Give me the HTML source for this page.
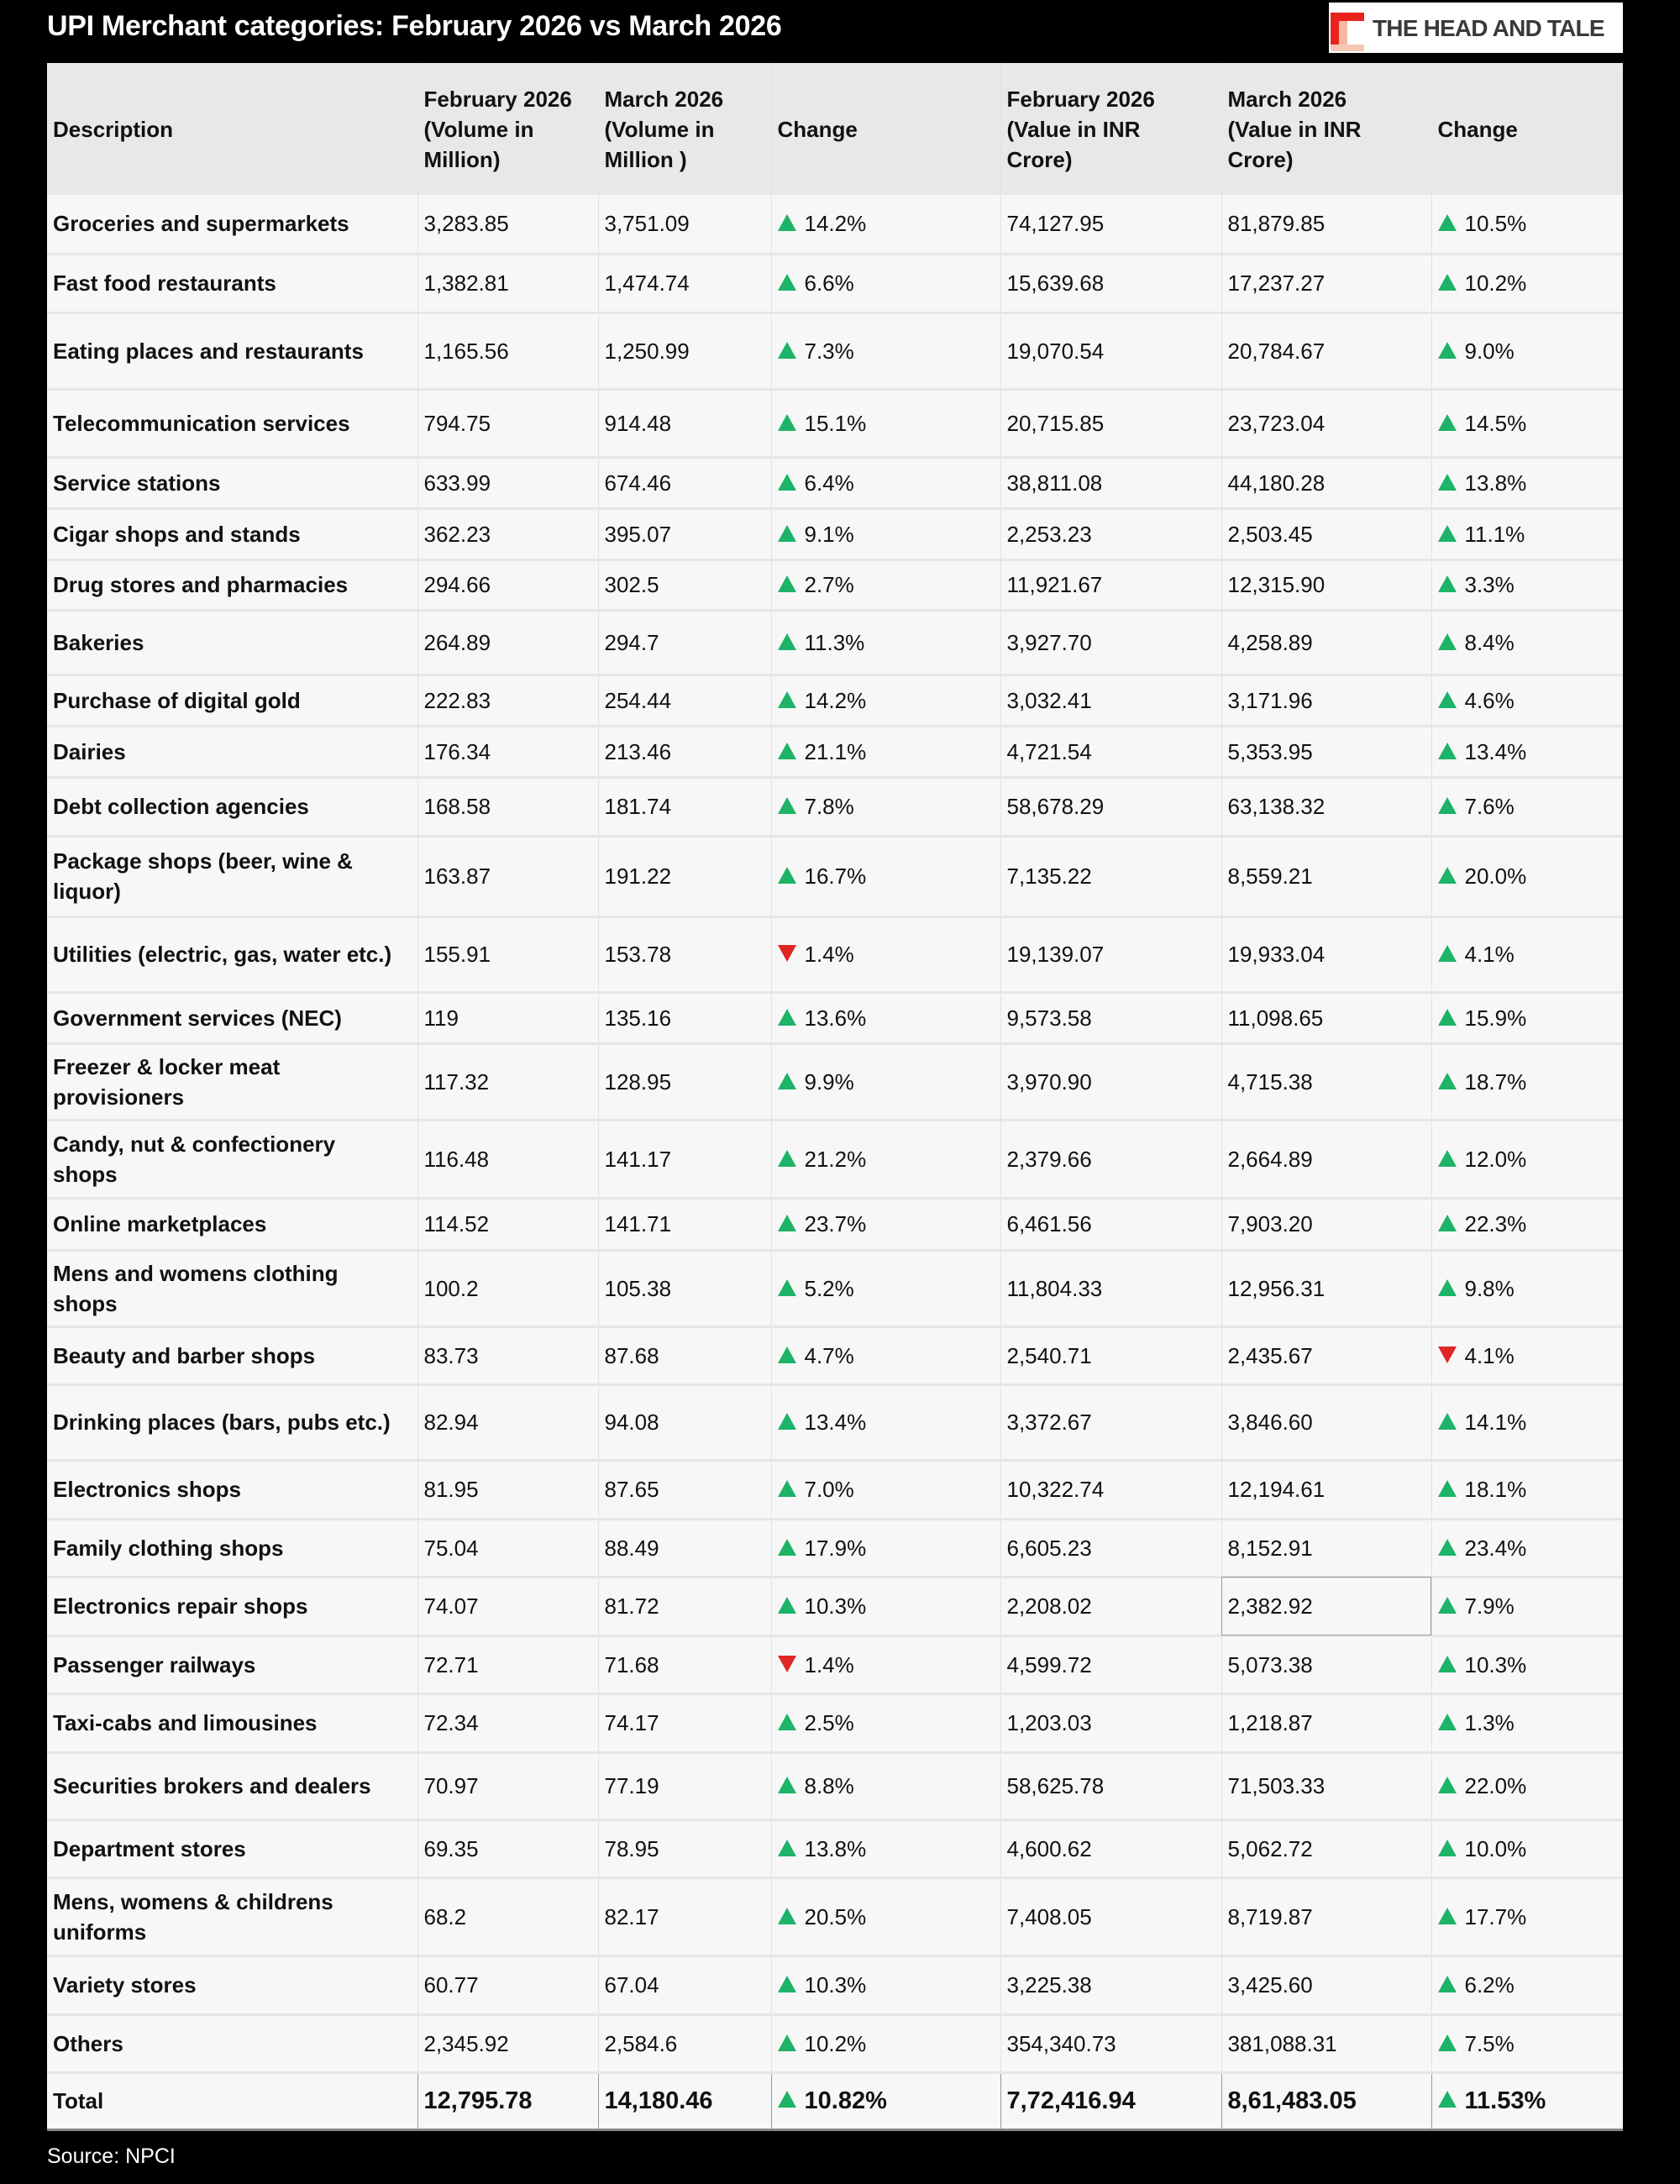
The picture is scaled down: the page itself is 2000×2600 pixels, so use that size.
<!DOCTYPE html>
<html><head><meta charset="utf-8"><style>
*{margin:0;padding:0;box-sizing:border-box}
body{width:2000px;height:2600px;background:#000;font-family:"Liberation Sans",Arial,sans-serif;position:relative;overflow:hidden}
.title{position:absolute;left:56px;top:12px;color:#fff;font-weight:bold;font-size:34px;letter-spacing:-0.3px}
.logo{position:absolute;left:1582px;top:3px;width:350px;height:60px;background:#fff;overflow:hidden}
.logo .t{position:absolute;left:52px;top:15px;font-size:28px;font-weight:bold;color:#3a3a3a;letter-spacing:-0.8px;white-space:nowrap}
table{position:absolute;left:56px;top:75px;width:1876px;border-collapse:collapse;table-layout:fixed;font-size:26px;color:#111}
td,th{padding:0 7px;vertical-align:middle;text-align:left;border-left:1px solid #e2e2e2;border-bottom:3px solid #e6e6e6;background:#f7f7f7;line-height:36px}
th{background:#e8e8e8;font-weight:bold;border-bottom:none}
td:first-child,th:first-child{border-left:none;font-weight:bold}
.up,.dn{display:inline-block;width:0;height:0;border-left:11px solid transparent;border-right:11px solid transparent;margin-right:10px;vertical-align:middle;position:relative;top:-3px}
.up{border-bottom:20px solid #1db368}
.dn{border-top:20px solid #e02525}
tr.tot td{border-top:3px solid #888;border-bottom:3px solid #888;border-left:1px solid #999;font-size:29px;font-weight:bold}
tr.tot td:first-child{border-left:none;font-size:26px}
.sel{outline:1px solid #999;outline-offset:-1px}
.src{position:absolute;left:56px;top:2553px;color:#fff;font-size:25px}
</style></head><body>
<div class="title">UPI Merchant categories: February 2026 vs March 2026</div>
<div class="logo"><svg width="48" height="60" style="position:absolute;left:0;top:0"><rect x="2" y="12" width="40" height="10" fill="#e8231f"/><rect x="2" y="12" width="10" height="38" fill="#e8231f"/><rect x="12" y="22" width="10" height="34" fill="#f4b8a4"/><rect x="2" y="50" width="40" height="8" fill="#f4c6b4"/></svg><div class="t">THE HEAD AND TALE</div></div>
<table>
<colgroup><col style="width:441px"><col style="width:215px"><col style="width:206px"><col style="width:273px"><col style="width:263px"><col style="width:250px"><col style="width:228px"></colgroup>
<tr style="height:157px"><th>Description</th><th>February 2026<br>(Volume in<br>Million)</th><th>March 2026<br>(Volume in<br>Million )</th><th>Change</th><th>February 2026<br>(Value in INR<br>Crore)</th><th>March 2026<br>(Value in INR<br>Crore)</th><th>Change</th></tr>
<tr style="height:70px"><td>Groceries and supermarkets</td><td>3,283.85</td><td>3,751.09</td><td><span class="up"></span>14.2%</td><td>74,127.95</td><td>81,879.85</td><td><span class="up"></span>10.5%</td></tr>
<tr style="height:70px"><td>Fast food restaurants</td><td>1,382.81</td><td>1,474.74</td><td><span class="up"></span>6.6%</td><td>15,639.68</td><td>17,237.27</td><td><span class="up"></span>10.2%</td></tr>
<tr style="height:91px"><td>Eating places and restaurants</td><td>1,165.56</td><td>1,250.99</td><td><span class="up"></span>7.3%</td><td>19,070.54</td><td>20,784.67</td><td><span class="up"></span>9.0%</td></tr>
<tr style="height:81px"><td>Telecommunication services</td><td>794.75</td><td>914.48</td><td><span class="up"></span>15.1%</td><td>20,715.85</td><td>23,723.04</td><td><span class="up"></span>14.5%</td></tr>
<tr style="height:61px"><td>Service stations</td><td>633.99</td><td>674.46</td><td><span class="up"></span>6.4%</td><td>38,811.08</td><td>44,180.28</td><td><span class="up"></span>13.8%</td></tr>
<tr style="height:61px"><td>Cigar shops and stands</td><td>362.23</td><td>395.07</td><td><span class="up"></span>9.1%</td><td>2,253.23</td><td>2,503.45</td><td><span class="up"></span>11.1%</td></tr>
<tr style="height:60px"><td>Drug stores and pharmacies</td><td>294.66</td><td>302.5</td><td><span class="up"></span>2.7%</td><td>11,921.67</td><td>12,315.90</td><td><span class="up"></span>3.3%</td></tr>
<tr style="height:77px"><td>Bakeries</td><td>264.89</td><td>294.7</td><td><span class="up"></span>11.3%</td><td>3,927.70</td><td>4,258.89</td><td><span class="up"></span>8.4%</td></tr>
<tr style="height:61px"><td>Purchase of digital gold</td><td>222.83</td><td>254.44</td><td><span class="up"></span>14.2%</td><td>3,032.41</td><td>3,171.96</td><td><span class="up"></span>4.6%</td></tr>
<tr style="height:61px"><td>Dairies</td><td>176.34</td><td>213.46</td><td><span class="up"></span>21.1%</td><td>4,721.54</td><td>5,353.95</td><td><span class="up"></span>13.4%</td></tr>
<tr style="height:70px"><td>Debt collection agencies</td><td>168.58</td><td>181.74</td><td><span class="up"></span>7.8%</td><td>58,678.29</td><td>63,138.32</td><td><span class="up"></span>7.6%</td></tr>
<tr style="height:96px"><td>Package shops (beer, wine &amp;<br>liquor)</td><td>163.87</td><td>191.22</td><td><span class="up"></span>16.7%</td><td>7,135.22</td><td>8,559.21</td><td><span class="up"></span>20.0%</td></tr>
<tr style="height:90px"><td>Utilities (electric, gas, water etc.)</td><td>155.91</td><td>153.78</td><td><span class="dn"></span>1.4%</td><td>19,139.07</td><td>19,933.04</td><td><span class="up"></span>4.1%</td></tr>
<tr style="height:61px"><td>Government services (NEC)</td><td>119</td><td>135.16</td><td><span class="up"></span>13.6%</td><td>9,573.58</td><td>11,098.65</td><td><span class="up"></span>15.9%</td></tr>
<tr style="height:91px"><td>Freezer &amp; locker meat<br>provisioners</td><td>117.32</td><td>128.95</td><td><span class="up"></span>9.9%</td><td>3,970.90</td><td>4,715.38</td><td><span class="up"></span>18.7%</td></tr>
<tr style="height:93px"><td>Candy, nut &amp; confectionery<br>shops</td><td>116.48</td><td>141.17</td><td><span class="up"></span>21.2%</td><td>2,379.66</td><td>2,664.89</td><td><span class="up"></span>12.0%</td></tr>
<tr style="height:62px"><td>Online marketplaces</td><td>114.52</td><td>141.71</td><td><span class="up"></span>23.7%</td><td>6,461.56</td><td>7,903.20</td><td><span class="up"></span>22.3%</td></tr>
<tr style="height:91px"><td>Mens and womens clothing<br>shops</td><td>100.2</td><td>105.38</td><td><span class="up"></span>5.2%</td><td>11,804.33</td><td>12,956.31</td><td><span class="up"></span>9.8%</td></tr>
<tr style="height:69px"><td>Beauty and barber shops</td><td>83.73</td><td>87.68</td><td><span class="up"></span>4.7%</td><td>2,540.71</td><td>2,435.67</td><td><span class="dn"></span>4.1%</td></tr>
<tr style="height:90px"><td>Drinking places (bars, pubs etc.)</td><td>82.94</td><td>94.08</td><td><span class="up"></span>13.4%</td><td>3,372.67</td><td>3,846.60</td><td><span class="up"></span>14.1%</td></tr>
<tr style="height:70px"><td>Electronics shops</td><td>81.95</td><td>87.65</td><td><span class="up"></span>7.0%</td><td>10,322.74</td><td>12,194.61</td><td><span class="up"></span>18.1%</td></tr>
<tr style="height:69px"><td>Family clothing shops</td><td>75.04</td><td>88.49</td><td><span class="up"></span>17.9%</td><td>6,605.23</td><td>8,152.91</td><td><span class="up"></span>23.4%</td></tr>
<tr style="height:70px"><td>Electronics repair shops</td><td>74.07</td><td>81.72</td><td><span class="up"></span>10.3%</td><td>2,208.02</td><td class="sel">2,382.92</td><td><span class="up"></span>7.9%</td></tr>
<tr style="height:69px"><td>Passenger railways</td><td>72.71</td><td>71.68</td><td><span class="dn"></span>1.4%</td><td>4,599.72</td><td>5,073.38</td><td><span class="up"></span>10.3%</td></tr>
<tr style="height:70px"><td>Taxi-cabs and limousines</td><td>72.34</td><td>74.17</td><td><span class="up"></span>2.5%</td><td>1,203.03</td><td>1,218.87</td><td><span class="up"></span>1.3%</td></tr>
<tr style="height:80px"><td>Securities brokers and dealers</td><td>70.97</td><td>77.19</td><td><span class="up"></span>8.8%</td><td>58,625.78</td><td>71,503.33</td><td><span class="up"></span>22.0%</td></tr>
<tr style="height:69px"><td>Department stores</td><td>69.35</td><td>78.95</td><td><span class="up"></span>13.8%</td><td>4,600.62</td><td>5,062.72</td><td><span class="up"></span>10.0%</td></tr>
<tr style="height:93px"><td>Mens, womens &amp; childrens<br>uniforms</td><td>68.2</td><td>82.17</td><td><span class="up"></span>20.5%</td><td>7,408.05</td><td>8,719.87</td><td><span class="up"></span>17.7%</td></tr>
<tr style="height:70px"><td>Variety stores</td><td>60.77</td><td>67.04</td><td><span class="up"></span>10.3%</td><td>3,225.38</td><td>3,425.60</td><td><span class="up"></span>6.2%</td></tr>
<tr style="height:69px"><td>Others</td><td>2,345.92</td><td>2,584.6</td><td><span class="up"></span>10.2%</td><td>354,340.73</td><td>381,088.31</td><td><span class="up"></span>7.5%</td></tr>
<tr class="tot" style="height:68px"><td>Total</td><td>12,795.78</td><td>14,180.46</td><td><span class="up"></span>10.82%</td><td>7,72,416.94</td><td>8,61,483.05</td><td><span class="up"></span>11.53%</td></tr>
</table>
<div class="src">Source: NPCI</div>
</body></html>
